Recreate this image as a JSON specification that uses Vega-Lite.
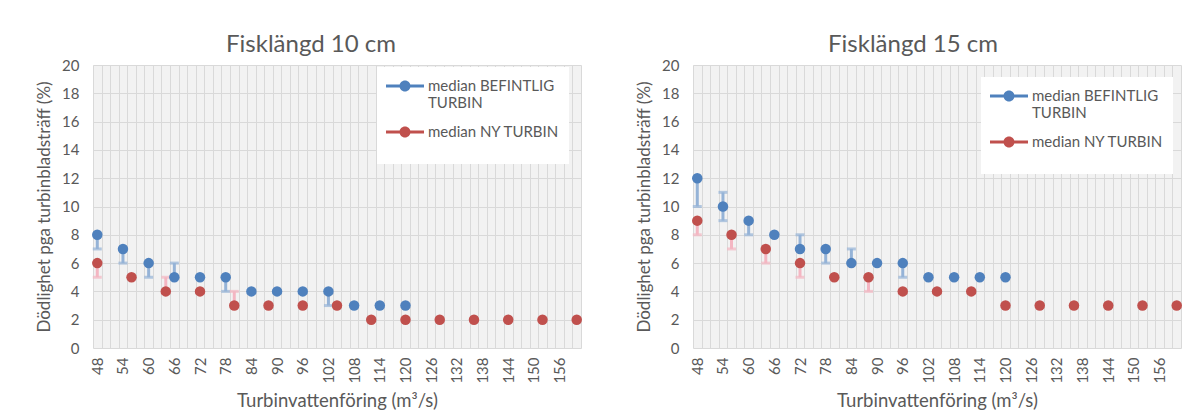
{
  "$schema": "https://vega.github.io/schema/vega-lite/v6.json",
  "padding": {"left": 35, "top": 33, "right": 0, "bottom": 0},
  "autosize": {"type": "pad"},
  "background": "white",
  "spacing": 46,
  "config": {
    "font": "Lato",
    "view": {"fill": "#f2f2f2", "stroke": null},
    "axis": {
      "labelColor": "#595959", "titleColor": "#595959",
      "labelFont": "Lato", "titleFont": "Lato",
      "labelFontSize": 15, "titleFontSize": 17, "titleFontWeight": "normal",
      "domain": false, "ticks": false,
      "gridColor": "#d9d9d9", "gridWidth": 1
    },
    "axisX": {"titleFontSize": 18.5},
    "axisY": {"labelOverlap": false, "tickCount": 10, "labelPadding": 14, "titlePadding": 8},
    "title": {"font": "Lato", "fontSize": 24, "fontWeight": "normal", "color": "#595959", "anchor": "middle"},
    "legend": {
      "orient": "none",
      "symbolType": "M-1,-0.15L2.8,-0.15L2.8,0.15L-1,0.15Z M0.35,0A0.55,0.55,0,1,1,1.45,0A0.55,0.55,0,1,1,0.35,0Z",
      "symbolSize": 400, "symbolStrokeWidth": 0,
      "fillColor": "white", "padding": 9,
      "labelFont": "Lato", "labelFontSize": 15, "labelColor": "#595959",
      "labelLimit": 300, "rowPadding": 11, "labelOffset": 22,
      "titleOrient": "bottom", "titleFontSize": 12, "titlePadding": 4
    }
  },
  "datasets": {
    "d": [
      {"panel": "10", "series": "median BEFINTLIG TURBIN", "q": 48, "median": 8, "lo": 7, "hi": 8},
      {"panel": "10", "series": "median BEFINTLIG TURBIN", "q": 54, "median": 7, "lo": 6, "hi": 7},
      {"panel": "10", "series": "median BEFINTLIG TURBIN", "q": 60, "median": 6, "lo": 5, "hi": 6},
      {"panel": "10", "series": "median BEFINTLIG TURBIN", "q": 66, "median": 5, "lo": 5, "hi": 6},
      {"panel": "10", "series": "median BEFINTLIG TURBIN", "q": 72, "median": 5, "lo": null, "hi": null},
      {"panel": "10", "series": "median BEFINTLIG TURBIN", "q": 78, "median": 5, "lo": 4, "hi": 5},
      {"panel": "10", "series": "median BEFINTLIG TURBIN", "q": 84, "median": 4, "lo": null, "hi": null},
      {"panel": "10", "series": "median BEFINTLIG TURBIN", "q": 90, "median": 4, "lo": null, "hi": null},
      {"panel": "10", "series": "median BEFINTLIG TURBIN", "q": 96, "median": 4, "lo": null, "hi": null},
      {"panel": "10", "series": "median BEFINTLIG TURBIN", "q": 102, "median": 4, "lo": 3, "hi": 4},
      {"panel": "10", "series": "median BEFINTLIG TURBIN", "q": 108, "median": 3, "lo": null, "hi": null},
      {"panel": "10", "series": "median BEFINTLIG TURBIN", "q": 114, "median": 3, "lo": null, "hi": null},
      {"panel": "10", "series": "median BEFINTLIG TURBIN", "q": 120, "median": 3, "lo": null, "hi": null},
      {"panel": "10", "series": "median NY TURBIN", "q": 48, "median": 6, "lo": 5, "hi": 6},
      {"panel": "10", "series": "median NY TURBIN", "q": 56, "median": 5, "lo": null, "hi": null},
      {"panel": "10", "series": "median NY TURBIN", "q": 64, "median": 4, "lo": 4, "hi": 5},
      {"panel": "10", "series": "median NY TURBIN", "q": 72, "median": 4, "lo": null, "hi": null},
      {"panel": "10", "series": "median NY TURBIN", "q": 80, "median": 3, "lo": 3, "hi": 4},
      {"panel": "10", "series": "median NY TURBIN", "q": 88, "median": 3, "lo": null, "hi": null},
      {"panel": "10", "series": "median NY TURBIN", "q": 96, "median": 3, "lo": null, "hi": null},
      {"panel": "10", "series": "median NY TURBIN", "q": 104, "median": 3, "lo": null, "hi": null},
      {"panel": "10", "series": "median NY TURBIN", "q": 112, "median": 2, "lo": null, "hi": null},
      {"panel": "10", "series": "median NY TURBIN", "q": 120, "median": 2, "lo": null, "hi": null},
      {"panel": "10", "series": "median NY TURBIN", "q": 128, "median": 2, "lo": null, "hi": null},
      {"panel": "10", "series": "median NY TURBIN", "q": 136, "median": 2, "lo": null, "hi": null},
      {"panel": "10", "series": "median NY TURBIN", "q": 144, "median": 2, "lo": null, "hi": null},
      {"panel": "10", "series": "median NY TURBIN", "q": 152, "median": 2, "lo": null, "hi": null},
      {"panel": "10", "series": "median NY TURBIN", "q": 160, "median": 2, "lo": null, "hi": null},
      {"panel": "15", "series": "median BEFINTLIG TURBIN", "q": 48, "median": 12, "lo": 10, "hi": 12},
      {"panel": "15", "series": "median BEFINTLIG TURBIN", "q": 54, "median": 10, "lo": 9, "hi": 11},
      {"panel": "15", "series": "median BEFINTLIG TURBIN", "q": 60, "median": 9, "lo": 8, "hi": 9},
      {"panel": "15", "series": "median BEFINTLIG TURBIN", "q": 66, "median": 8, "lo": null, "hi": null},
      {"panel": "15", "series": "median BEFINTLIG TURBIN", "q": 72, "median": 7, "lo": 7, "hi": 8},
      {"panel": "15", "series": "median BEFINTLIG TURBIN", "q": 78, "median": 7, "lo": 6, "hi": 7},
      {"panel": "15", "series": "median BEFINTLIG TURBIN", "q": 84, "median": 6, "lo": 6, "hi": 7},
      {"panel": "15", "series": "median BEFINTLIG TURBIN", "q": 90, "median": 6, "lo": null, "hi": null},
      {"panel": "15", "series": "median BEFINTLIG TURBIN", "q": 96, "median": 6, "lo": 5, "hi": 6},
      {"panel": "15", "series": "median BEFINTLIG TURBIN", "q": 102, "median": 5, "lo": null, "hi": null},
      {"panel": "15", "series": "median BEFINTLIG TURBIN", "q": 108, "median": 5, "lo": null, "hi": null},
      {"panel": "15", "series": "median BEFINTLIG TURBIN", "q": 114, "median": 5, "lo": null, "hi": null},
      {"panel": "15", "series": "median BEFINTLIG TURBIN", "q": 120, "median": 5, "lo": null, "hi": null},
      {"panel": "15", "series": "median NY TURBIN", "q": 48, "median": 9, "lo": 8, "hi": 9},
      {"panel": "15", "series": "median NY TURBIN", "q": 56, "median": 8, "lo": 7, "hi": 8},
      {"panel": "15", "series": "median NY TURBIN", "q": 64, "median": 7, "lo": 6, "hi": 7},
      {"panel": "15", "series": "median NY TURBIN", "q": 72, "median": 6, "lo": 5, "hi": 6},
      {"panel": "15", "series": "median NY TURBIN", "q": 80, "median": 5, "lo": null, "hi": null},
      {"panel": "15", "series": "median NY TURBIN", "q": 88, "median": 5, "lo": 4, "hi": 5},
      {"panel": "15", "series": "median NY TURBIN", "q": 96, "median": 4, "lo": null, "hi": null},
      {"panel": "15", "series": "median NY TURBIN", "q": 104, "median": 4, "lo": null, "hi": null},
      {"panel": "15", "series": "median NY TURBIN", "q": 112, "median": 4, "lo": null, "hi": null},
      {"panel": "15", "series": "median NY TURBIN", "q": 120, "median": 3, "lo": null, "hi": null},
      {"panel": "15", "series": "median NY TURBIN", "q": 128, "median": 3, "lo": null, "hi": null},
      {"panel": "15", "series": "median NY TURBIN", "q": 136, "median": 3, "lo": null, "hi": null},
      {"panel": "15", "series": "median NY TURBIN", "q": 144, "median": 3, "lo": null, "hi": null},
      {"panel": "15", "series": "median NY TURBIN", "q": 152, "median": 3, "lo": null, "hi": null},
      {"panel": "15", "series": "median NY TURBIN", "q": 160, "median": 3, "lo": null, "hi": null}
    ]
  },
  "resolve": {"scale": {"color": "independent"}, "legend": {"color": "independent"}},
  "hconcat": [
    {
      "title": {"text": "Fisklängd 10 cm", "dx": -26, "offset": 1},
      "width": 488, "height": 283,
      "data": {"name": "d"},
      "transform": [{"filter": "datum.panel == '10'"}],
      "encoding": {
        "x": {"field": "q", "type": "quantitative", "title": "Turbinvattenföring (m³/s)",
              "scale": {"domain": [47, 161], "nice": false, "zero": false},
              "axis": {
                "values": [47,49,51,53,55,57,59,61,63,65,67,69,71,73,75,77,79,81,83,85,87,89,91,93,95,97,99,101,103,105,107,109,111,113,115,117,119,121,123,125,127,129,131,133,135,137,139,141,143,145,147,149,151,153,155,157,159,161,48,54,60,66,72,78,84,90,96,102,108,114,120,126,132,138,144,150,156],
                "labelExpr": "datum.value % 2 == 0 ? datum.label : ''",
                "gridOpacity": {"condition": {"test": "datum.value % 2 == 1", "value": 1}, "value": 0},
                "labelAngle": -90, "labelAlign": "right", "labelBaseline": "middle",
                "labelPadding": 9, "titlePadding": 8, "labelOverlap": false, "labelFlush": false
              }}
      },
      "layer": [
        {
          "transform": [{"filter": "datum.series == 'median BEFINTLIG TURBIN' && isValid(datum.lo)"}],
          "mark": {"type": "errorbar", "ticks": {"size": 9}, "color": "#95b3d7", "thickness": 3},
          "encoding": {
            "y": {"field": "lo", "type": "quantitative", "title": "Dödlighet pga turbinbladsträff (%)",
                  "scale": {"domain": [0, 20], "nice": false},
                  "axis": {"tickCount": 10, "labelOverlap": false}},
            "y2": {"field": "hi"}
          }
        },
        {
          "transform": [{"filter": "datum.series == 'median NY TURBIN' && isValid(datum.lo)"}],
          "mark": {"type": "errorbar", "ticks": {"size": 9}, "color": "#f4b6c2", "thickness": 3},
          "encoding": {
            "y": {"field": "lo", "type": "quantitative", "title": "Dödlighet pga turbinbladsträff (%)",
                  "axis": {"tickCount": 10, "labelOverlap": false}},
            "y2": {"field": "hi"}
          }
        },
        {
          "mark": {"type": "point", "filled": true, "size": 110, "opacity": 1},
          "encoding": {
            "y": {
              "field": "median", "type": "quantitative", "title": "Dödlighet pga turbinbladsträff (%)",
              "scale": {"domain": [0, 20], "nice": false},
              "axis": {"tickCount": 10, "labelOverlap": false}
            },
            "color": {
              "field": "series", "type": "nominal",
              "scale": {"domain": ["median BEFINTLIG TURBIN", "median NY TURBIN"], "range": ["#4f81bd", "#c0504d"]},
              "legend": {
                "title": "\u00a0",
                "legendX": 284, "legendY": 2,
                "labelExpr": "datum.value == 'median BEFINTLIG TURBIN' ? ['median BEFINTLIG', 'TURBIN'] : datum.label",
                "encode": {"labels": {"update": {"dy": {"signal": "datum.value == 'median BEFINTLIG TURBIN' ? 9 : 0"}}}}
              }
            }
          }
        }
      ]
    },
    {
      "title": {"text": "Fisklängd 15 cm", "dx": -24, "offset": 1},
      "width": 488, "height": 283,
      "data": {"name": "d"},
      "transform": [{"filter": "datum.panel == '15'"}],
      "encoding": {
        "x": {"field": "q", "type": "quantitative", "title": "Turbinvattenföring (m³/s)",
              "scale": {"domain": [47, 161], "nice": false, "zero": false},
              "axis": {
                "values": [47,49,51,53,55,57,59,61,63,65,67,69,71,73,75,77,79,81,83,85,87,89,91,93,95,97,99,101,103,105,107,109,111,113,115,117,119,121,123,125,127,129,131,133,135,137,139,141,143,145,147,149,151,153,155,157,159,161,48,54,60,66,72,78,84,90,96,102,108,114,120,126,132,138,144,150,156],
                "labelExpr": "datum.value % 2 == 0 ? datum.label : ''",
                "gridOpacity": {"condition": {"test": "datum.value % 2 == 1", "value": 1}, "value": 0},
                "labelAngle": -90, "labelAlign": "right", "labelBaseline": "middle",
                "labelPadding": 9, "titlePadding": 8, "labelOverlap": false, "labelFlush": false
              }}
      },
      "layer": [
        {
          "transform": [{"filter": "datum.series == 'median BEFINTLIG TURBIN' && isValid(datum.lo)"}],
          "mark": {"type": "errorbar", "ticks": {"size": 9}, "color": "#95b3d7", "thickness": 3},
          "encoding": {
            "y": {"field": "lo", "type": "quantitative", "title": "Dödlighet pga turbinbladsträff (%)",
                  "scale": {"domain": [0, 20], "nice": false},
                  "axis": {"tickCount": 10, "labelOverlap": false}},
            "y2": {"field": "hi"}
          }
        },
        {
          "transform": [{"filter": "datum.series == 'median NY TURBIN' && isValid(datum.lo)"}],
          "mark": {"type": "errorbar", "ticks": {"size": 9}, "color": "#f4b6c2", "thickness": 3},
          "encoding": {
            "y": {"field": "lo", "type": "quantitative", "title": "Dödlighet pga turbinbladsträff (%)",
                  "axis": {"tickCount": 10, "labelOverlap": false}},
            "y2": {"field": "hi"}
          }
        },
        {
          "mark": {"type": "point", "filled": true, "size": 110, "opacity": 1},
          "encoding": {
            "y": {
              "field": "median", "type": "quantitative", "title": "Dödlighet pga turbinbladsträff (%)",
              "scale": {"domain": [0, 20], "nice": false},
              "axis": {"tickCount": 10, "labelOverlap": false}
            },
            "color": {
              "field": "series", "type": "nominal",
              "scale": {"domain": ["median BEFINTLIG TURBIN", "median NY TURBIN"], "range": ["#4f81bd", "#c0504d"]},
              "legend": {
                "title": "\u00a0",
                "legendX": 288, "legendY": 12,
                "labelExpr": "datum.value == 'median BEFINTLIG TURBIN' ? ['median BEFINTLIG', 'TURBIN'] : datum.label",
                "encode": {"labels": {"update": {"dy": {"signal": "datum.value == 'median BEFINTLIG TURBIN' ? 9 : 0"}}}}
              }
            }
          }
        }
      ]
    }
  ]
}
